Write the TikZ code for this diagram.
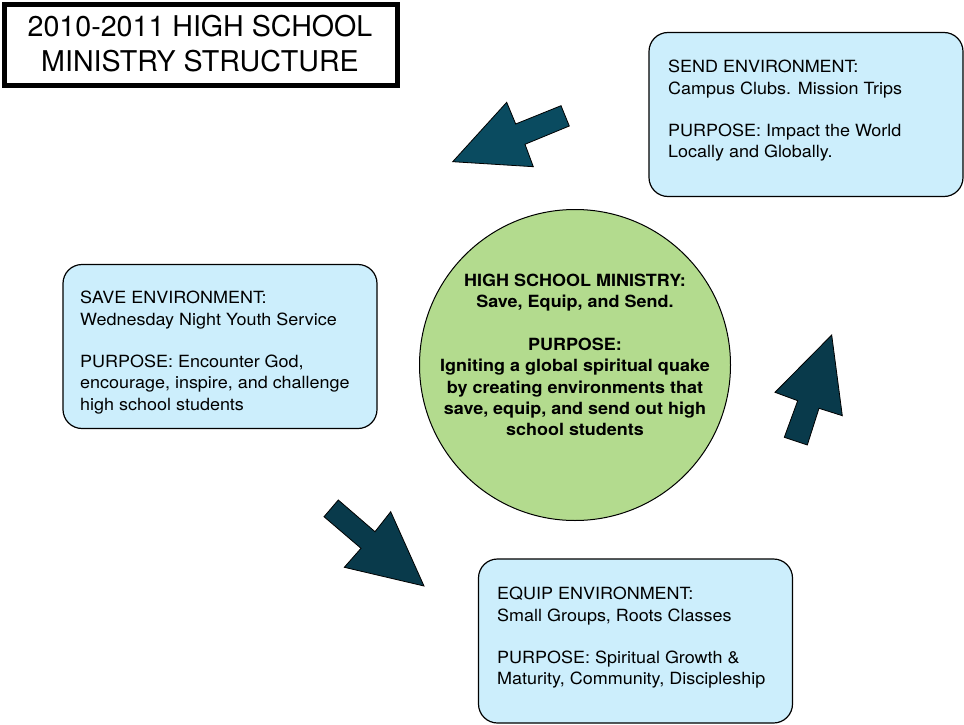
\documentclass[tikz,border=0pt]{standalone}
\usepackage{fontspec}
\setmainfont{TeX Gyre Heros}[FakeStretch=1.07]
\newfontfamily\titlefont{TeX Gyre Heros}
\definecolor{boxblue}{RGB}{204,238,252}
\definecolor{circgreen}{RGB}{179,219,142}
\definecolor{arrowA}{RGB}{10,75,96}
\definecolor{arrowB}{RGB}{9,58,75}
\begin{document}
\begin{tikzpicture}[x=1pt,y=-1pt,
  envbox/.style={draw=black, line width=1.2pt, fill=boxblue, rounded corners=19pt,
    minimum width=314pt, minimum height=164pt, inner sep=0pt},
  envtext/.style={anchor=north west, align=left, inner sep=0pt,
    font=\fontsize{16.8}{21.3}\selectfont},
  bigarrow/.style={draw=black, line width=0.8pt, line join=miter}]
\useasboundingbox (0,0) rectangle (964,725);

% title
\node[draw=black, line width=5pt, minimum width=393pt, minimum height=81pt, inner sep=0pt] (titlebox) at (201,45) {};
\node[anchor=north, align=center, inner sep=0pt, font=\titlefont\fontsize{28.6}{35}\selectfont] (titletext) at (200,15)
  {2010-2011 HIGH SCHOOL\\MINISTRY STRUCTURE};

% environment boxes
\node[envbox] (send) at (806,114.5) {};
\node[envtext] (sendtext) at (668,60)
  {SEND ENVIRONMENT:\\Campus Clubs. Mission Trips\\[21.3pt]PURPOSE: Impact the World\\Locally and Globally.};

\node[envbox] (save) at (220,346.5) {};
\node[envtext] (savetext) at (80,291)
  {SAVE ENVIRONMENT:\\Wednesday Night Youth Service\\[21.3pt]PURPOSE: Encounter God,\\encourage, inspire, and challenge\\high school students};

\node[envbox] (equip) at (635.5,641) {};
\node[envtext] (equiptext) at (497,587)
  {EQUIP ENVIRONMENT:\\Small Groups, Roots Classes\\[21.3pt]PURPOSE: Spiritual Growth \&\\Maturity, Community, Discipleship};

% hub circle
\node[circle, draw=black, line width=1pt, fill=circgreen, minimum size=311pt, inner sep=0pt] (hub) at (575,365) {};
\node[anchor=north, align=center, inner sep=0pt, font=\bfseries\fontsize{16.8}{21.3}\selectfont] (hubtext) at (575,274)
  {HIGH SCHOOL MINISTRY:\\Save, Equip, and Send.\\[21.3pt]PURPOSE:\\Igniting a global spiritual quake\\by creating environments that\\save, equip, and send out high\\school students};

% block arrows
\draw[bigarrow, fill=arrowA] (452.7,161.7) -- (506.7,102.3) -- (515.7,124) -- (561,105.7)
  -- (569.3,126) -- (525,144.3) -- (533.3,166.7) -- cycle;
\draw[bigarrow, fill=arrowB] (831.7,335) -- (842.3,415.7) -- (819,408.3) -- (807.3,445)
  -- (784.3,437.3) -- (797.7,400.7) -- (775,392.3) -- cycle;
\draw[bigarrow, fill=arrowB] (424,586) -- (344.3,567.3) -- (361,548.3) -- (324,516.7)
  -- (338.3,500) -- (375,531.7) -- (390.7,511.7) -- cycle;
\end{tikzpicture}
\end{document}
